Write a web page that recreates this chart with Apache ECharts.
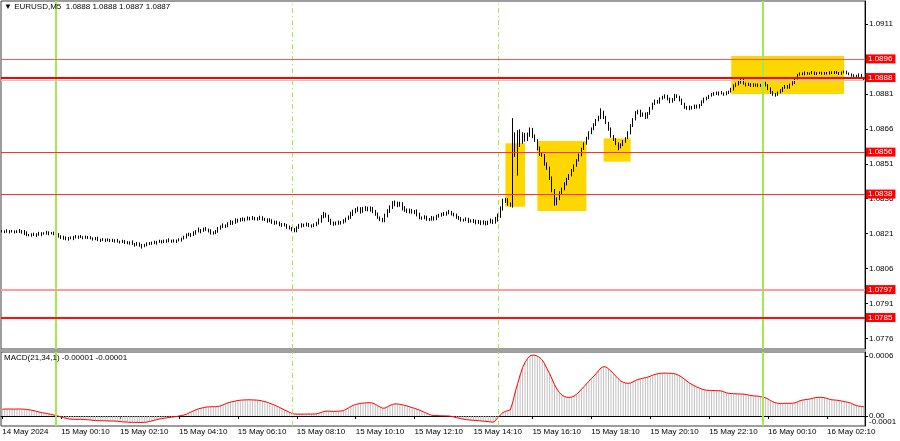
<!DOCTYPE html>
<html><head><meta charset="utf-8">
<script src="https://cdn.jsdelivr.net/npm/echarts@6/dist/echarts.min.js"></script>
<style>html,body{margin:0;padding:0;background:#fff}#c{width:900px;height:441px}</style>
</head><body><div id="c"></div>
<script>
// ---- data ----
const BASE = 1.08, PIP = 0.0001;
const symbolTitle = 'EURUSD,M5';
const header = ['1.0888', '1.0888', '1.0887', '1.0887'];
const macdTitle = 'MACD(21,34,1) -0.00001 -0.00001';
const firstOpen = 21.9;
// closes in pips above 1.0800, one bar per 5 minutes from 14 May 22:10
const closePips = [
22.0,21.8,22.1,21.9,22.0,21.7,21.9,22.2,22.0,21.2,20.5,20.3,
20.6,20.4,20.8,20.5,21.0,21.2,21.4,21.1,21.3,20.9,20.6,19.9,
19.5,19.0,18.6,19.2,19.0,19.6,19.4,19.8,19.5,19.2,19.6,19.3,
19.0,18.6,18.9,18.4,18.2,18.5,18.1,18.4,18.0,17.8,18.2,17.6,
17.4,17.8,17.2,16.9,17.3,16.6,16.2,16.8,16.0,15.6,16.2,16.5,
16.8,17.2,16.9,17.5,17.8,17.4,17.9,18.2,17.7,18.0,17.6,18.1,
18.4,18.9,19.5,20.3,20.8,20.4,21.2,21.9,22.6,22.2,23.0,22.8,
22.3,21.6,21.2,22.0,23.1,24.0,24.6,24.2,25.3,26.0,25.6,26.8,
26.5,27.0,27.4,27.1,27.6,27.3,27.8,27.5,27.2,27.9,27.4,27.0,
26.3,26.8,26.0,25.4,25.8,25.0,24.5,24.8,23.9,23.4,22.8,22.2,
23.5,24.4,24.9,24.5,25.0,24.6,24.2,24.8,25.3,26.5,28.2,29.2,
28.5,27.0,25.6,25.0,25.4,26.0,25.7,26.4,27.3,28.0,29.4,30.5,
31.0,31.8,30.6,31.5,32.0,31.2,31.9,30.8,29.5,28.0,27.2,26.5,
28.8,30.5,32.4,33.8,34.2,33.2,33.9,32.0,31.2,30.5,31.0,30.2,
30.6,29.4,28.0,27.6,28.1,27.3,27.0,27.8,27.4,28.3,28.9,29.2,
29.5,29.9,30.2,29.6,29.0,28.2,27.5,27.0,26.8,27.2,26.4,26.7,
26.2,25.8,26.3,25.5,25.9,25.3,25.8,26.5,25.9,27.0,28.6,31.5,
34.8,35.6,33.8,33.2,57.0,62.5,64.6,60.8,63.5,61.5,63.2,65.2,
62.8,61.0,57.8,55.2,54.6,51.0,49.4,45.2,39.8,34.0,36.0,38.6,
40.2,42.5,44.6,46.0,48.2,50.3,52.4,54.8,57.5,59.6,62.0,64.3,
66.0,67.8,69.6,70.8,73.2,71.0,68.6,66.0,63.0,61.4,59.8,58.4,
59.2,60.6,62.0,64.2,67.4,70.0,72.8,73.6,71.8,72.4,70.8,72.6,
74.8,76.6,78.0,77.4,78.9,79.6,80.2,78.8,77.6,78.6,80.4,79.8,
78.4,76.8,75.2,74.6,75.4,74.9,75.8,75.3,76.2,77.6,78.8,79.4,
80.2,80.8,81.4,80.9,81.6,81.2,80.8,81.5,82.0,83.0,84.5,85.2,
86.0,86.8,85.4,84.8,85.2,84.6,85.0,84.5,84.9,84.6,85.6,84.8,
83.2,81.8,81.0,80.8,81.6,82.4,83.6,84.2,83.8,85.0,85.8,87.6,
89.2,89.8,89.4,90.0,89.6,89.8,90.2,89.5,89.9,90.1,89.6,90.0,
89.7,90.3,89.9,90.4,90.0,89.6,90.2,90.6,89.8,89.4,89.0,88.8,
88.6,89.2,88.0,87.0];
// upper / lower wick lengths, in fifths of a pip
const upWick = [
3,2,4,2,3,2,3,4,2,3,4,2, 3,4,2,5,3,2,4,3,2,3,2,3, 2,3,4,2,3,2,4,2,3,2,3,2,
3,2,3,4,2,3,2,3,2,4,2,3, 2,3,2,3,2,4,2,3,2,3,2,4, 3,2,4,2,3,2,3,2,4,2,3,2,
3,2,3,4,3,2,4,3,5,2,3,4, 2,3,2,3,4,3,4,2,3,4,3,4, 3,4,3,2,4,3,4,2,3,4,3,2,
3,4,2,3,4,2,3,4,2,3,2,3, 3,4,3,2,4,3,2,3,4,5,4,6, 4,3,2,3,4,3,2,4,3,4,5,4,
5,4,3,5,4,3,4,3,2,3,2,3, 4,5,4,6,5,3,4,3,4,3,4,3, 3,4,3,2,4,3,2,4,3,4,3,4,
4,3,5,3,2,3,2,3,2,4,3,2, 3,4,3,2,4,3,4,5,3,6,5,6, 6,4,3,3,68,10,4,6,5,4,6,7,
6,4,3,3,2,3,3,2,2,2,3,3, 3,3,2,3,3,2,3,3,2,3,3,3, 3,3,3,4,8,3,3,2,3,2,3,2,
3,3,2,4,3,3,4,3,3,3,3,3, 3,3,3,2,3,3,3,2,3,3,3,2, 2,3,2,3,3,2,3,3,2,3,3,2,
2,3,2,3,2,3,2,3,2,3,3,3, 4,3,3,2,3,2,3,2,3,2,3,3, 2,3,2,2,2,3,2,3,3,2,3,3,
2,2,2,3,2,2,3,2,2,2,2,2, 2,2,2,2,2,2,2,2,2,2,2,2, 2,3,2,0];
const dnWick = [
2,3,2,4,2,3,2,3,5,4,3,2, 3,2,4,2,3,2,3,4,2,3,4,3, 4,3,2,3,2,4,2,3,2,3,2,3,
2,3,2,3,4,2,3,2,3,2,3,2, 3,2,3,2,3,2,4,2,3,5,2,3, 2,3,2,3,2,3,2,4,2,3,2,3,
2,4,2,3,2,4,2,3,2,5,2,3, 4,5,3,2,3,2,3,4,2,3,4,2, 4,2,3,4,2,3,2,4,3,2,4,3,
3,2,4,3,2,4,3,2,4,3,4,3, 3,2,4,3,2,4,3,2,3,2,4,3, 3,5,4,3,2,3,4,2,3,2,3,4,
4,3,5,3,4,3,4,5,4,3,4,3, 3,4,3,4,5,4,3,5,4,3,4,3, 4,5,4,3,2,4,3,2,4,3,2,3,
3,4,3,4,3,4,3,4,3,2,4,3, 3,4,3,4,3,4,3,2,4,3,4,4, 3,3,4,3,5,15,83,13,6,5,4,3,
4,3,5,4,3,4,5,6,5,5,4,3, 3,3,4,3,2,3,3,2,3,3,2,3, 3,3,3,2,3,4,3,4,4,3,4,8,
4,3,3,2,3,3,2,3,4,3,3,2, 3,3,2,3,3,2,3,3,3,2,3,3, 3,3,3,2,3,3,2,3,3,2,3,3,
3,2,3,2,3,2,3,2,3,2,3,3, 3,3,2,3,2,3,3,2,3,3,2,3, 3,4,4,5,3,2,3,2,3,3,2,3,
2,2,2,2,2,2,2,2,2,2,2,2, 2,2,2,2,2,2,2,2,2,2,3,3, 3,2,2,0];
// MACD main (= signal, period 1), units of 0.00001
const macdVals = [
6.8,6.9,7.0,7.0,6.9,6.9,7.0,7.0,6.9,6.8,6.5,6.2,
5.8,5.3,4.6,4.0,3.4,3.0,2.6,2.1,1.6,1.0,0.4,-0.2,
-1.0,-1.7,-2.3,-2.9,-3.2,-3.3,-3.3,-3.4,-3.3,-3.5,-3.6,-3.8,
-4.0,-4.3,-4.6,-4.7,-4.7,-4.8,-4.8,-4.9,-5.0,-5.0,-5.1,-5.3,
-5.6,-5.8,-6.0,-6.1,-6.3,-6.3,-6.4,-6.4,-6.5,-6.4,-6.3,-6.0,
-5.5,-4.9,-4.3,-3.6,-3.1,-2.6,-2.3,-1.9,-1.5,-1.2,-0.8,-0.5,
0.0,0.5,1.0,1.8,2.9,4.2,5.3,6.3,7.2,7.8,8.4,8.9,
9.1,9.2,9.3,9.3,9.5,10.2,11.2,12.3,13.2,13.9,14.4,15.0,
15.5,15.8,16.0,16.1,16.2,16.2,16.1,16.0,15.8,15.5,15.0,14.4,
13.6,12.7,11.8,10.8,9.7,8.5,7.3,6.1,4.9,3.7,2.6,2.0,
1.9,1.9,1.8,1.9,2.0,2.0,1.9,2.0,2.2,2.8,3.6,4.5,
4.9,4.8,4.7,4.6,4.7,4.9,5.0,5.4,6.6,8.1,9.5,10.7,
11.5,12.1,12.6,12.9,13.1,13.3,13.3,12.8,11.7,10.3,8.9,7.8,
8.0,9.3,10.6,11.6,12.1,12.0,11.7,11.2,10.6,10.0,9.2,8.4,
7.6,6.8,5.9,4.8,3.7,2.6,1.6,0.8,0.5,0.4,0.3,0.2,
0.1,0.1,0.0,-0.4,-1.0,-1.6,-2.2,-2.7,-3.2,-3.6,-3.9,-4.1,
-4.3,-4.5,-4.7,-4.9,-5.2,-5.4,-5.6,-5.9,-6.2,-4.5,-1.3,1.2,
3.5,4.6,5.4,6.2,14.0,24.0,32.5,41.0,48.5,53.5,57.5,60.2,
61.0,60.8,59.9,58.4,56.0,52.0,47.0,42.5,37.0,31.5,26.8,23.5,
21.0,19.5,18.8,18.6,19.0,20.0,21.8,24.0,26.8,29.3,32.0,34.8,
37.5,39.8,42.5,45.5,48.2,49.4,49.0,47.2,45.0,42.5,39.8,37.2,
35.0,33.8,33.0,32.7,33.0,34.2,35.5,36.5,37.2,37.8,38.3,38.9,
39.8,40.8,41.6,42.2,42.6,42.8,42.9,42.8,42.7,42.6,42.2,41.4,
40.2,38.6,36.8,34.8,33.0,31.5,30.2,29.0,28.0,27.0,26.2,25.8,
25.6,25.5,25.4,25.3,25.3,25.0,24.2,23.2,22.7,22.5,22.3,22.2,
22.1,22.0,21.9,21.5,21.0,20.5,20.2,20.0,19.8,19.4,18.8,18.2,
17.0,15.5,14.2,13.2,12.7,12.6,12.6,12.7,12.6,12.7,12.8,13.2,
14.2,15.2,15.9,16.3,16.6,17.0,17.6,18.2,18.6,18.7,18.6,18.3,
17.6,16.8,16.2,16.0,15.8,15.5,15.0,14.5,14.0,13.5,12.6,11.4,
10.4,9.9,9.6,9.3];
const timeLabels = ['14 May 2024','15 May 00:10','15 May 02:10','15 May 04:10','15 May 06:10',
  '15 May 08:10','15 May 10:10','15 May 12:10','15 May 14:10','15 May 16:10','15 May 18:10',
  '15 May 20:10','15 May 22:10','16 May 00:10','16 May 02:10'];
const priceTicks = [1.0776,1.0791,1.0806,1.0821,1.0836,1.0851,1.0866,1.0881,1.0896,1.0911];
const macdTicks = [0.0006, 0];
const macdMinTick = [-0.0001];
const levels = [1.0896, 1.0888, 1.0856, 1.0838, 1.0797, 1.0785];
const bidPrice = 1.0887;
// zones: [first bar, last bar, low price, high price]
const zoneStart = [205, 218, 245, 297];
const zoneEnd   = [213, 238, 256, 343];
const zoneLow   = [1.08326, 1.08307, 1.08519, 1.0881];
const zoneHigh  = [1.08598, 1.08608, 1.08619, 1.08973];
const dayLineBars = [22, 310];      // 15 May 00:00, 16 May 00:00
const sessionLineBars = [118, 202]; // 15 May 08:00, 15 May 15:00

// ---- styling ----
const FONT = 'Liberation Sans';
const GREEN = '#a3e84e';
const levelColor = ['#ff5555', '#ff0000', '#ff3030', '#ff3030', '#ff9c9c', '#ff1010'];
const levelWidth = [1, 2, 1, 1, 2, 2];
const TICK_EVERY = 24;
const WICK_UNIT = 0.2; // pips per wick step

const cats = closePips.map((_, i) => i);
const candles = closePips.map((c, i) => {
  const o = i === 0 ? firstOpen : closePips[i - 1];
  const h = Math.max(o, c) + upWick[i] * WICK_UNIT;
  const l = Math.min(o, c) - dnWick[i] * WICK_UNIT;
  return [o, c, l, h].map(v => +(BASE + v * PIP).toFixed(5));
});
const macdData = macdVals.map(v => +(v * 1e-5).toFixed(7));

const vLines = dayLineBars.map(b => ({xAxis: b, lineStyle: {color: GREEN, width: 2, type: 'solid'}}))
  .concat(sessionLineBars.map(b => ({xAxis: b, lineStyle: {color: GREEN, width: 1, type: [5, 3, 1, 3]}})));
const vLineMark = {silent: true, symbol: ['none', 'none'], label: {show: false}, data: vLines, animation: false};
const hLines = [{yAxis: bidPrice, lineStyle: {color: '#c8c8c8', width: 1, type: 'solid'}, label: {show: false}}]
  .concat(levels.map((v, k) => ({yAxis: v,
    lineStyle: {color: levelColor[k], width: levelWidth[k], type: 'solid'},
    label: {show: true, position: 'end', distance: 1, formatter: v.toFixed(4), backgroundColor: '#ff0000',
            color: '#fff', fontFamily: FONT, fontSize: 8, padding: [1, 3, 0, 2]}})));

const chart = echarts.init(document.getElementById('c'));
const txt = {fontFamily: FONT, fontSize: 8, color: '#000', fontWeight: 'normal'};
chart.setOption({
  animation: false,
  backgroundColor: '#fff',
  textStyle: {fontFamily: FONT},
  title: [
    {text: '\u25BC ' + symbolTitle + '  ' + header.join(' '), left: 4, top: 3, padding: 0, textStyle: txt},
    {text: macdTitle, left: 4, top: 354, padding: 0, textStyle: txt}
  ],
  grid: [
    {left: 1, right: 35, top: 1, height: 348, show: true, borderColor: '#3a3a3a', borderWidth: 1, outerBoundsMode: 'none', containLabel: false},
    {left: 1, right: 35, top: 352, height: 74, show: true, borderColor: '#3a3a3a', borderWidth: 1, outerBoundsMode: 'none', containLabel: false}
  ],
  xAxis: [
    {type: 'category', gridIndex: 0, data: cats, boundaryGap: true,
     axisLine: {show: false}, axisTick: {show: false}, axisLabel: {show: false}, splitLine: {show: false}},
    {type: 'category', gridIndex: 1, data: cats, boundaryGap: true,
     axisLine: {show: true, lineStyle: {color: '#000', width: 1}},
     axisTick: {show: true, alignWithLabel: true, length: 3, interval: (i) => i % TICK_EVERY === 0, lineStyle: {color: '#000'}},
     axisLabel: {show: true, interval: (i) => i % TICK_EVERY === 0, align: 'left', margin: 2,
       formatter: (v, i) => timeLabels[i / TICK_EVERY] || '', fontFamily: FONT, fontSize: 8, color: '#000'},
     splitLine: {show: false}}
  ],
  yAxis: [
    {type: 'value', gridIndex: 0, position: 'right', min: 1.07715, max: 1.092087, splitLine: {show: false},
     axisLine: {show: true, lineStyle: {color: '#000'}},
     axisTick: {show: true, length: 3, customValues: priceTicks, lineStyle: {color: '#000'}},
     axisLabel: {customValues: priceTicks, formatter: v => v.toFixed(4), fontFamily: FONT, fontSize: 8, color: '#000', margin: 4}},
    {type: 'value', gridIndex: 1, position: 'right', min: -0.0001, max: 0.00064, splitLine: {show: false},
     axisLine: {show: true, lineStyle: {color: '#000'}},
     axisTick: {show: true, length: 3, customValues: macdTicks, lineStyle: {color: '#000'}},
     axisLabel: {customValues: macdTicks, fontFamily: FONT, fontSize: 8, color: '#000', margin: 4,
       formatter: v => v === 0 ? '0.00' : v.toFixed(4)}},
    {type: 'value', gridIndex: 1, position: 'right', min: -0.0001, max: 0.00064, splitLine: {show: false},
     axisLine: {show: false}, axisTick: {show: false},
     axisLabel: {customValues: macdMinTick, fontFamily: FONT, fontSize: 8, color: '#000', margin: 4,
       verticalAlign: 'bottom', showMinLabel: true, formatter: v => v.toFixed(4)}}
  ],
  series: [
    {type: 'line', xAxisIndex: 0, yAxisIndex: 0, data: [], z: 1,
     markArea: {silent: true, itemStyle: {color: '#ffd700'},
       data: zoneStart.map((s, k) => [{xAxis: s, yAxis: zoneHigh[k]}, {xAxis: zoneEnd[k], yAxis: zoneLow[k]}])},
     markLine: vLineMark},
    {type: 'candlestick', xAxisIndex: 0, yAxisIndex: 0, data: candles, barWidth: 1, large: false, z: 3,
     itemStyle: {color: '#ffffff', color0: '#000000', borderColor: '#000000', borderColor0: '#000000', borderWidth: 1}},
    {type: 'line', xAxisIndex: 0, yAxisIndex: 0, data: [], z: 4,
     markLine: {silent: true, symbol: ['none', 'none'], precision: 6, data: hLines}},
    {type: 'bar', xAxisIndex: 1, yAxisIndex: 1, data: macdData, barWidth: 1, z: 2,
     itemStyle: {color: '#c0c0c0'}},
    {type: 'line', xAxisIndex: 1, yAxisIndex: 1, data: macdData, symbol: 'none', z: 3,
     lineStyle: {color: '#ff0000', width: 1}, markLine: vLineMark}
  ],
  graphic: [
    {type: 'rect', shape: {x: 0, y: 349, width: 866, height: 3}, style: {fill: '#a0a0a0'}, z: 100}
  ]
});
</script></body></html>
